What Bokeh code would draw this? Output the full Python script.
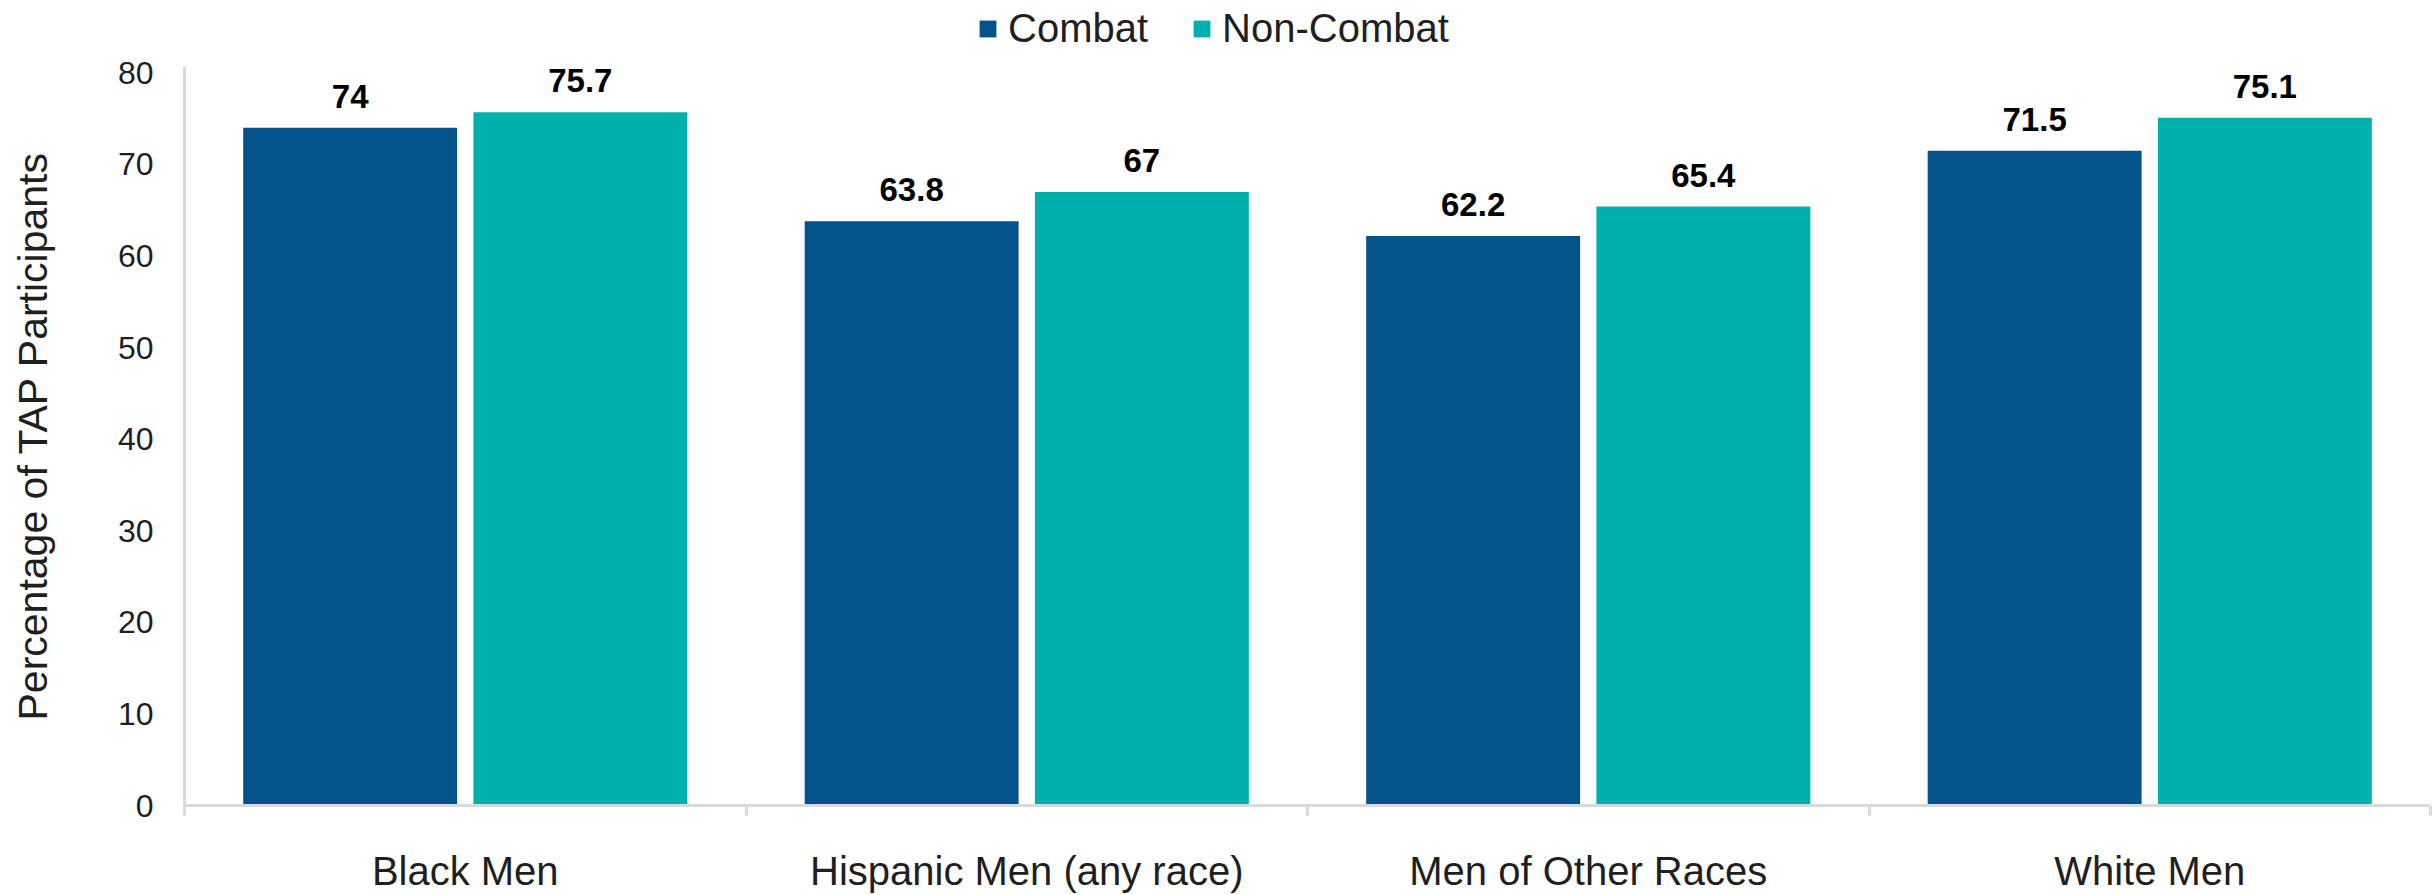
from bokeh.plotting import figure
from bokeh.layouts import column
from bokeh.models import ColumnDataSource, Range1d, FixedTicker, Legend, LegendItem, LabelSet
from bokeh.transform import dodge
from bokeh.core.properties import value
from bokeh.embed import file_html
from bokeh.resources import INLINE

categories = ["Black Men", "Hispanic Men (any race)", "Men of Other Races", "White Men"]
combat = [74.0, 63.8, 62.2, 71.5]
non_combat = [75.7, 67.0, 65.4, 75.1]
series_names = ["Combat", "Non-Combat"]
y_ticks = [0, 10, 20, 30, 40, 50, 60, 70, 80]

FONT = "Liberation Sans"
C_COMBAT = "#03528a"
C_NONCOMBAT = "#00b0ac"
AXIS_GRAY = "#d9d9d9"
TEXT = "#1f1f1f"
W, H = 2433, 895
LEG_H = 52

pos = [i + 0.5 for i in range(len(categories))]
src = ColumnDataSource(dict(
    x=pos,
    combat=combat,
    non_combat=non_combat,
    combat_lbl=[("%g" % v) for v in combat],
    non_combat_lbl=[("%g" % v) for v in non_combat],
))

# ---- legend strip on top ----
pl = figure(width=W, height=LEG_H, output_backend="svg", toolbar_location=None,
            x_axis_location=None, y_axis_location=None,
            x_range=Range1d(0, 1), y_range=Range1d(0, 1),
            min_border_left=184, min_border_right=3, min_border_top=0, min_border_bottom=0)
pl.outline_line_color = None
pl.center = []          # no grids in the legend strip
pl.background_fill_color = "white"
pl.border_fill_color = "white"
# legend swatches only: zero-size bars, nothing drawn in the strip itself
d1 = pl.vbar(x=[0.5], bottom=[0.0], top=[0.0], width=0.0, fill_color=C_COMBAT, line_color=None)
d2 = pl.vbar(x=[0.5], bottom=[0.0], top=[0.0], width=0.0, fill_color=C_NONCOMBAT, line_color=None)
legend = Legend(items=[LegendItem(label=series_names[0], renderers=[d1]),
                       LegendItem(label=series_names[1], renderers=[d2])],
                orientation="horizontal", location=(793, 1),
                glyph_width=21, glyph_height=21, label_standoff=10, spacing=43,
                padding=0, margin=0, border_line_color=None, background_fill_alpha=0,
                label_text_font=FONT, label_text_font_size="40px", label_text_color=TEXT)
pl.add_layout(legend, "center")

# ---- main chart ----
p = figure(width=W, height=H - LEG_H, output_backend="svg", toolbar_location=None,
           x_range=Range1d(0, 4.0), y_range=Range1d(0, 80.7),
           min_border_left=184, min_border_right=3, min_border_top=66 - LEG_H,
           min_border_bottom=90)
p.outline_line_color = None
p.xgrid.visible = False
p.ygrid.visible = False
p.background_fill_color = "white"
p.border_fill_color = "white"

bw = 0.381
r1 = p.vbar(x=dodge("x", -0.205, range=p.x_range), top="combat", width=bw, source=src,
            fill_color=C_COMBAT, line_color=None)
r2 = p.vbar(x=dodge("x", 0.205, range=p.x_range), top="non_combat", width=bw, source=src,
            fill_color=C_NONCOMBAT, line_color=None)

for col, lbl, off in [("combat", "combat_lbl", -0.205), ("non_combat", "non_combat_lbl", 0.205)]:
    ls = LabelSet(x=dodge("x", off, range=p.x_range), y=col, text=lbl, source=src,
                  text_align="center", text_baseline="alphabetic", y_offset=20,
                  text_font=value(FONT), text_font_style="bold", text_font_size="33px",
                  text_color="#000000")
    p.add_layout(ls)

# x axis: labels at category centers, tick marks at category boundaries
xa = p.xaxis[0]
xa.ticker = FixedTicker(ticks=pos, minor_ticks=list(range(len(categories) + 1)))
xa.major_label_overrides = {p_: c for p_, c in zip(pos, categories)}
xa.major_tick_line_color = None
xa.major_tick_out = 0
xa.major_tick_in = 0
xa.minor_tick_line_color = AXIS_GRAY
xa.minor_tick_line_width = 3
xa.minor_tick_out = 10
xa.minor_tick_in = 0
xa.axis_line_color = AXIS_GRAY
xa.axis_line_width = 3
xa.major_label_standoff = 33
xa.major_label_text_font = FONT
xa.major_label_text_font_size = "40px"
xa.major_label_text_color = TEXT

ya = p.yaxis[0]
ya.ticker = FixedTicker(ticks=y_ticks)
ya.major_tick_line_color = None
ya.minor_tick_line_color = None
ya.major_tick_out = 0
ya.major_tick_in = 0
ya.axis_line_color = AXIS_GRAY
ya.axis_line_width = 3
ya.major_label_standoff = 31
ya.major_label_text_font = FONT
ya.major_label_text_font_size = "32px"
ya.major_label_text_color = TEXT
ya.axis_label = "Percentage of TAP Participants"
ya.axis_label_text_font = FONT
ya.axis_label_text_font_style = "normal"
ya.axis_label_text_font_size = "41px"
ya.axis_label_text_color = TEXT
ya.axis_label_standoff = 59

layout = column(pl, p, spacing=0)
open("out.html", "w").write(file_html(layout, INLINE))
